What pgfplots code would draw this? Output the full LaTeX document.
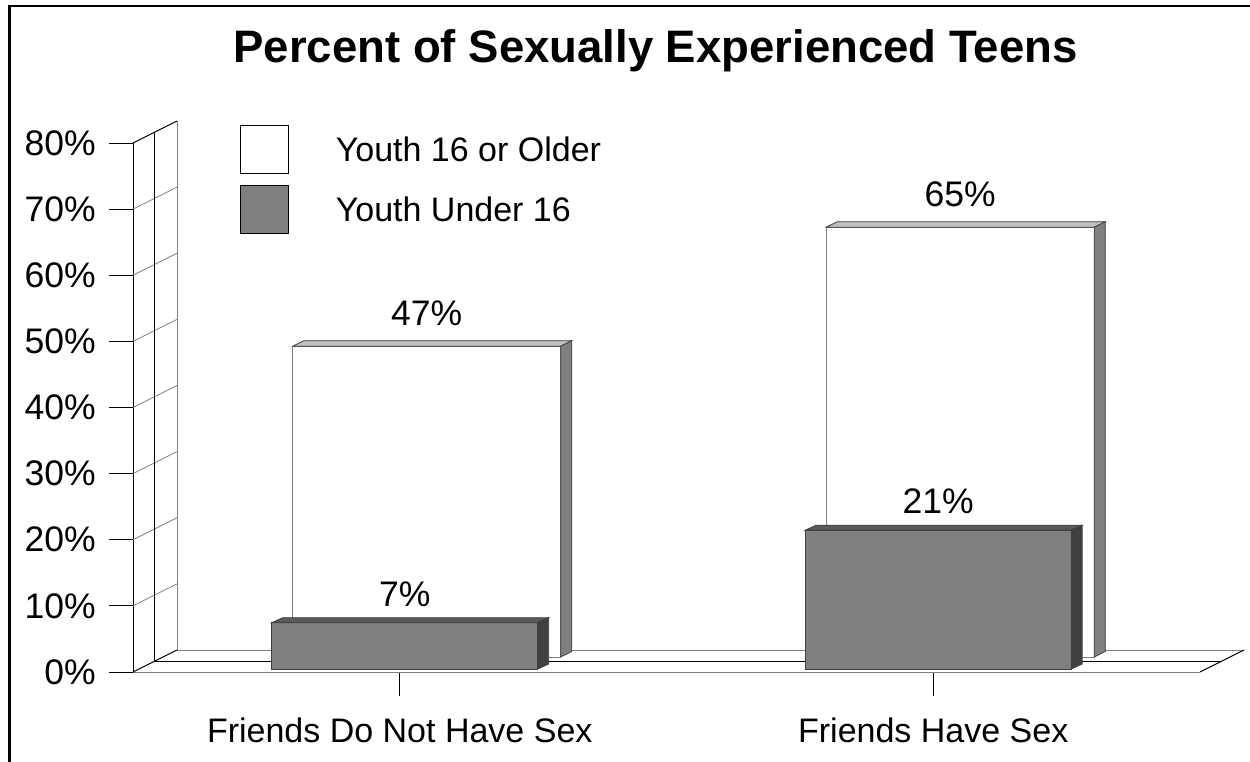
\documentclass[border=0pt]{standalone}
\usepackage{pgfplots}
\pgfplotsset{compat=1.18}
\usepackage{fontspec}
\setmainfont{Liberation Sans}
\pgfkeys{/pgf/number format/assume math mode=true}
\definecolor{midgray}{HTML}{808080}
\definecolor{lightgray}{HTML}{C0C0C0}
\definecolor{darkgray}{HTML}{404040}
\definecolor{topgray}{HTML}{5A5A5A}
\newcommand\fs{\fontsize{34}{40}\selectfont}
\newcommand\fn{\fontsize{35.5}{40}\selectfont}
\begin{document}
\begin{tikzpicture}[x=1pt,y=1pt]
\useasboundingbox (0,0) rectangle (1250,-761);
\fill[white] (0,0) rectangle (1250,-761);
\draw[line width=2.8pt] (9.4,-770) -- (9.4,-6) -- (1260,-6);
\node[anchor=base, font=\fontsize{45.5}{50}\selectfont\bfseries] at (655.5,-62) {Percent of Sexually Experienced Teens};

% frame axis: back wall, floor, ticks, legend
\begin{axis}[
  at={(133pt,-672pt)}, anchor=south west,
  scale only axis, width=1067pt, height=529pt,
  xmin=-0.5, xmax=1.5, ymin=0, ymax=80,
  clip=false,
  axis x line*=bottom, axis y line*=left,
  x axis line style={midgray, line width=1pt},
  y axis line style={black, line width=1pt},
  tick align=outside, major tick length=24pt,
  tick style={black, line width=1pt},
  xtick={0,1},
  xticklabels={Friends Do Not Have Sex, Friends Have Sex},
  xticklabel style={font=\fs, anchor=base, inner sep=0pt, yshift=-46pt},
  ytick={0,10,20,30,40,50,60,70,80},
  yticklabels={0\%,10\%,20\%,30\%,40\%,50\%,60\%,70\%,80\%},
  yticklabel style={font=\fn, anchor=east, inner sep=0pt, xshift=-13pt},
  legend image code/.code={\draw[#1] (0pt,-23pt) rectangle (48pt,25pt);},
  legend style={at={(0.1003,1.034)}, anchor=north west, draw=none, fill=none,
    inner sep=0pt, outer sep=0pt, row sep=11pt, column sep=0pt, font=\fs,
    nodes={inner sep=0pt, outer sep=0pt}},
  legend cell align=left,
  /tikz/every odd column/.style={column sep=47pt},
]
\addlegendimage{fill=white, draw=black, line width=0.8pt}
\addlegendentry{Youth 16 or Older}
\addlegendimage{fill=midgray, draw=black, line width=0.8pt}
\addlegendentry{Youth Under 16}
% back wall grid
\addplot[midgray, line width=0.8pt, mark=none, forget plot] coordinates {(-0.5,10) (-0.4175,13.327)};
\addplot[midgray, line width=0.8pt, mark=none, forget plot] coordinates {(-0.5,20) (-0.4175,23.327)};
\addplot[midgray, line width=0.8pt, mark=none, forget plot] coordinates {(-0.5,30) (-0.4175,33.327)};
\addplot[midgray, line width=0.8pt, mark=none, forget plot] coordinates {(-0.5,40) (-0.4175,43.327)};
\addplot[midgray, line width=0.8pt, mark=none, forget plot] coordinates {(-0.5,50) (-0.4175,53.327)};
\addplot[midgray, line width=0.8pt, mark=none, forget plot] coordinates {(-0.5,60) (-0.4175,63.327)};
\addplot[midgray, line width=0.8pt, mark=none, forget plot] coordinates {(-0.5,70) (-0.4175,73.327)};
\addplot[midgray, line width=1pt, mark=none, forget plot] coordinates {(-0.4175,3.327) (-0.4175,83.327)};
\addplot[midgray, line width=1pt, mark=none, forget plot] coordinates {(-0.4175,3.327) (1.5825,3.327)};
\addplot[black, line width=1pt, mark=none, forget plot] coordinates {(-0.5,80) (-0.4175,83.327)};
\addplot[black, line width=1pt, mark=none, forget plot] coordinates {(-0.5,0) (-0.4175,3.327)};
\addplot[black, line width=1pt, mark=none, forget plot] coordinates {(-0.4588,1.664) (-0.4588,81.664)};
\addplot[black, line width=1pt, mark=none, forget plot] coordinates {(-0.4588,1.664) (1.5412,1.664)};
\addplot[black, line width=1pt, mark=none, forget plot] coordinates {(1.5,0) (1.5825,3.327)};
\end{axis}

% back row: Youth 16 or Older
\begin{axis}[
  at={(160pt,-657pt)}, anchor=south west,
  scale only axis, width=1067pt, height=529pt,
  xmin=-0.5, xmax=1.5, ymin=0, ymax=80,
  clip=false, hide axis,
]
\addplot[ybar, bar width=268pt, fill=white, draw=midgray, line width=1pt,
  nodes near coords={\pgfmathprintnumber{\pgfplotspointmeta}\%},
  every node near coord/.append style={font=\fn, anchor=south, inner sep=0pt, yshift=20pt, text=black}]
  coordinates {(0,47) (1,65)};
\addplot[fill=lightgray, draw=darkgray, line width=0.8pt, mark=none, forget plot] coordinates {(-0.2512,47) (0.2512,47) (0.2718,47.83) (-0.2306,47.83)} --cycle;
\addplot[fill=midgray, draw=darkgray, line width=0.8pt, mark=none, forget plot] coordinates {(0.2512,0) (0.2512,47) (0.2718,47.83) (0.2718,0.83)} --cycle;
\addplot[fill=lightgray, draw=darkgray, line width=0.8pt, mark=none, forget plot] coordinates {(0.7488,65) (1.2512,65) (1.2718,65.83) (0.7694,65.83)} --cycle;
\addplot[fill=midgray, draw=darkgray, line width=0.8pt, mark=none, forget plot] coordinates {(1.2512,0) (1.2512,65) (1.2718,65.83) (1.2718,0.83)} --cycle;
\end{axis}

% front row: Youth Under 16
\begin{axis}[
  at={(138pt,-669pt)}, anchor=south west,
  scale only axis, width=1067pt, height=529pt,
  xmin=-0.5, xmax=1.5, ymin=0, ymax=80,
  clip=false, hide axis,
]
\addplot[ybar, bar width=266pt, fill=midgray, draw=darkgray, line width=1pt,
  nodes near coords={\pgfmathprintnumber{\pgfplotspointmeta}\%},
  every node near coord/.append style={font=\fn, anchor=south, inner sep=0pt, yshift=16pt, text=black}]
  coordinates {(0,7) (1,21)};
\addplot[fill=topgray, draw=darkgray, line width=0.8pt, mark=none, forget plot] coordinates {(-0.2493,7) (0.2493,7) (0.2699,7.756) (-0.2287,7.756)} --cycle;
\addplot[fill=darkgray, draw=darkgray, line width=0.8pt, mark=none, forget plot] coordinates {(0.2493,0) (0.2493,7) (0.2699,7.756) (0.2699,0.756)} --cycle;
\addplot[fill=topgray, draw=darkgray, line width=0.8pt, mark=none, forget plot] coordinates {(0.7507,21) (1.2493,21) (1.2699,21.756) (0.7713,21.756)} --cycle;
\addplot[fill=darkgray, draw=darkgray, line width=0.8pt, mark=none, forget plot] coordinates {(1.2493,0) (1.2493,21) (1.2699,21.756) (1.2699,0.756)} --cycle;
\end{axis}
\end{tikzpicture}
\end{document}
